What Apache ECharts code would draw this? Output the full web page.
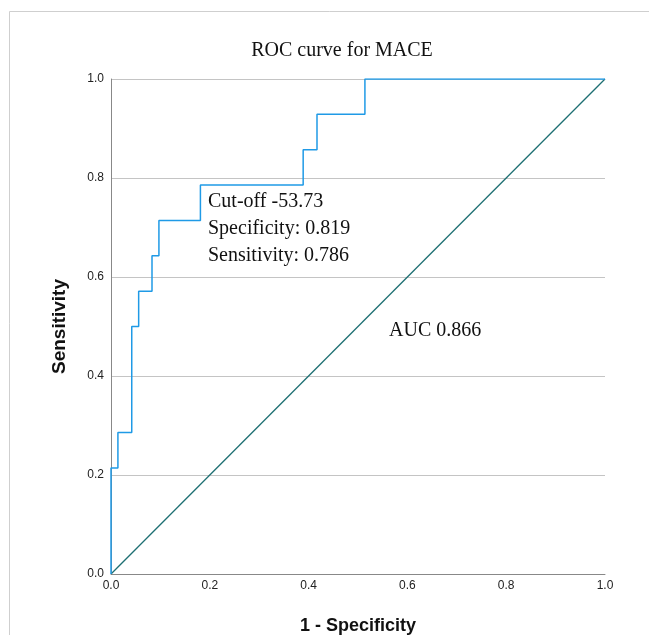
<!DOCTYPE html>
<html>
<head>
<meta charset="utf-8">
<script src="https://cdn.jsdelivr.net/npm/echarts@6/dist/echarts.min.js"></script>
<style>html,body{margin:0;padding:0;background:#fff;overflow:hidden;}#c{width:649px;height:635px;}</style>
</head>
<body>
<div id="c"></div>
<script>
// ROC curve corner points (1 - specificity, sensitivity)
var fpr = [0, 0, 0.014, 0.014, 0.042, 0.042, 0.056, 0.056, 0.083, 0.083, 0.097, 0.097, 0.181, 0.181, 0.389, 0.389, 0.417, 0.417, 0.514, 0.514, 1];
var tpr = [0, 0.214, 0.214, 0.286, 0.286, 0.5, 0.5, 0.571, 0.571, 0.643, 0.643, 0.714, 0.714, 0.786, 0.786, 0.857, 0.857, 0.929, 0.929, 1, 1];
var refX = [0, 1];
var refY = [0, 1];
var titleText = 'ROC curve for MACE';
var xName = '1 - Specificity';
var yName = 'Sensitivity';
var cutoffLines = ['Cut-off -53.73', 'Specificity: 0.819', 'Sensitivity: 0.786'];
var aucText = 'AUC 0.866';

var chart = echarts.init(document.getElementById('c'), null, {renderer: 'canvas', width: 649, height: 635});
var rocData = fpr.map(function (v, i) { return [v, tpr[i]]; });
var refData = refX.map(function (v, i) { return [v, refY[i]]; });
var serif = '"Liberation Serif", "Times New Roman", serif';
var sans = '"Liberation Sans", Arial, sans-serif';

chart.setOption({
  animation: false,
  backgroundColor: '#ffffff',
  title: {
    text: titleText, left: 337, top: 36, textAlign: 'center',
    textStyle: {fontFamily: serif, fontWeight: 'normal', fontSize: 20, color: '#111'}
  },
  grid: {left: 111, width: 494, top: 79, height: 495, outerBoundsMode: 'none', containLabel: false},
  xAxis: {
    type: 'value', min: 0, max: 1, interval: 0.2,
    name: xName, nameLocation: 'middle', nameGap: 43,
    nameTextStyle: {fontFamily: sans, fontWeight: 'bold', fontSize: 18, color: '#111'},
    axisLine: {show: true, lineStyle: {color: '#888', width: 1}},
    axisTick: {show: false},
    splitLine: {show: false},
    axisLabel: {fontFamily: sans, fontSize: 12, color: '#222', margin: 6,
      formatter: function (v) { return v.toFixed(1); }}
  },
  yAxis: {
    type: 'value', min: 0, max: 1, interval: 0.2,
    name: yName, nameLocation: 'middle', nameGap: 42,
    nameTextStyle: {fontFamily: sans, fontWeight: 'bold', fontSize: 19, color: '#111'},
    axisLine: {show: true, lineStyle: {color: '#888', width: 1}},
    axisTick: {show: false},
    splitLine: {show: true, lineStyle: {color: '#c4c4c4', width: 1}},
    axisLabel: {fontFamily: sans, fontSize: 12, color: '#222', margin: 7,
      formatter: function (v) { return v.toFixed(1); }}
  },
  series: [
    {
      type: 'line', data: refData, symbol: 'none', z: 3,
      lineStyle: {color: '#1d6f72', width: 1.3}
    },
    {
      type: 'line', data: rocData, symbol: 'none', z: 4,
      lineStyle: {color: '#1f9ae6', width: 1.5}
    }
  ],
  graphic: [
    {type: 'rect', silent: true,
      shape: {x: 9.5, y: 11.5, width: 700, height: 700},
      style: {fill: 'none', stroke: '#cfcfcf', lineWidth: 1}},
    {type: 'text', left: 208, top: 188, silent: true,
      style: {text: cutoffLines.join('\n'), font: '20px ' + serif, fill: '#111', lineHeight: 27}},
    {type: 'text', left: 389, top: 321, silent: true,
      style: {text: aucText, font: '20px ' + serif, fill: '#111'}}
  ]
});
</script>
</body>
</html>
